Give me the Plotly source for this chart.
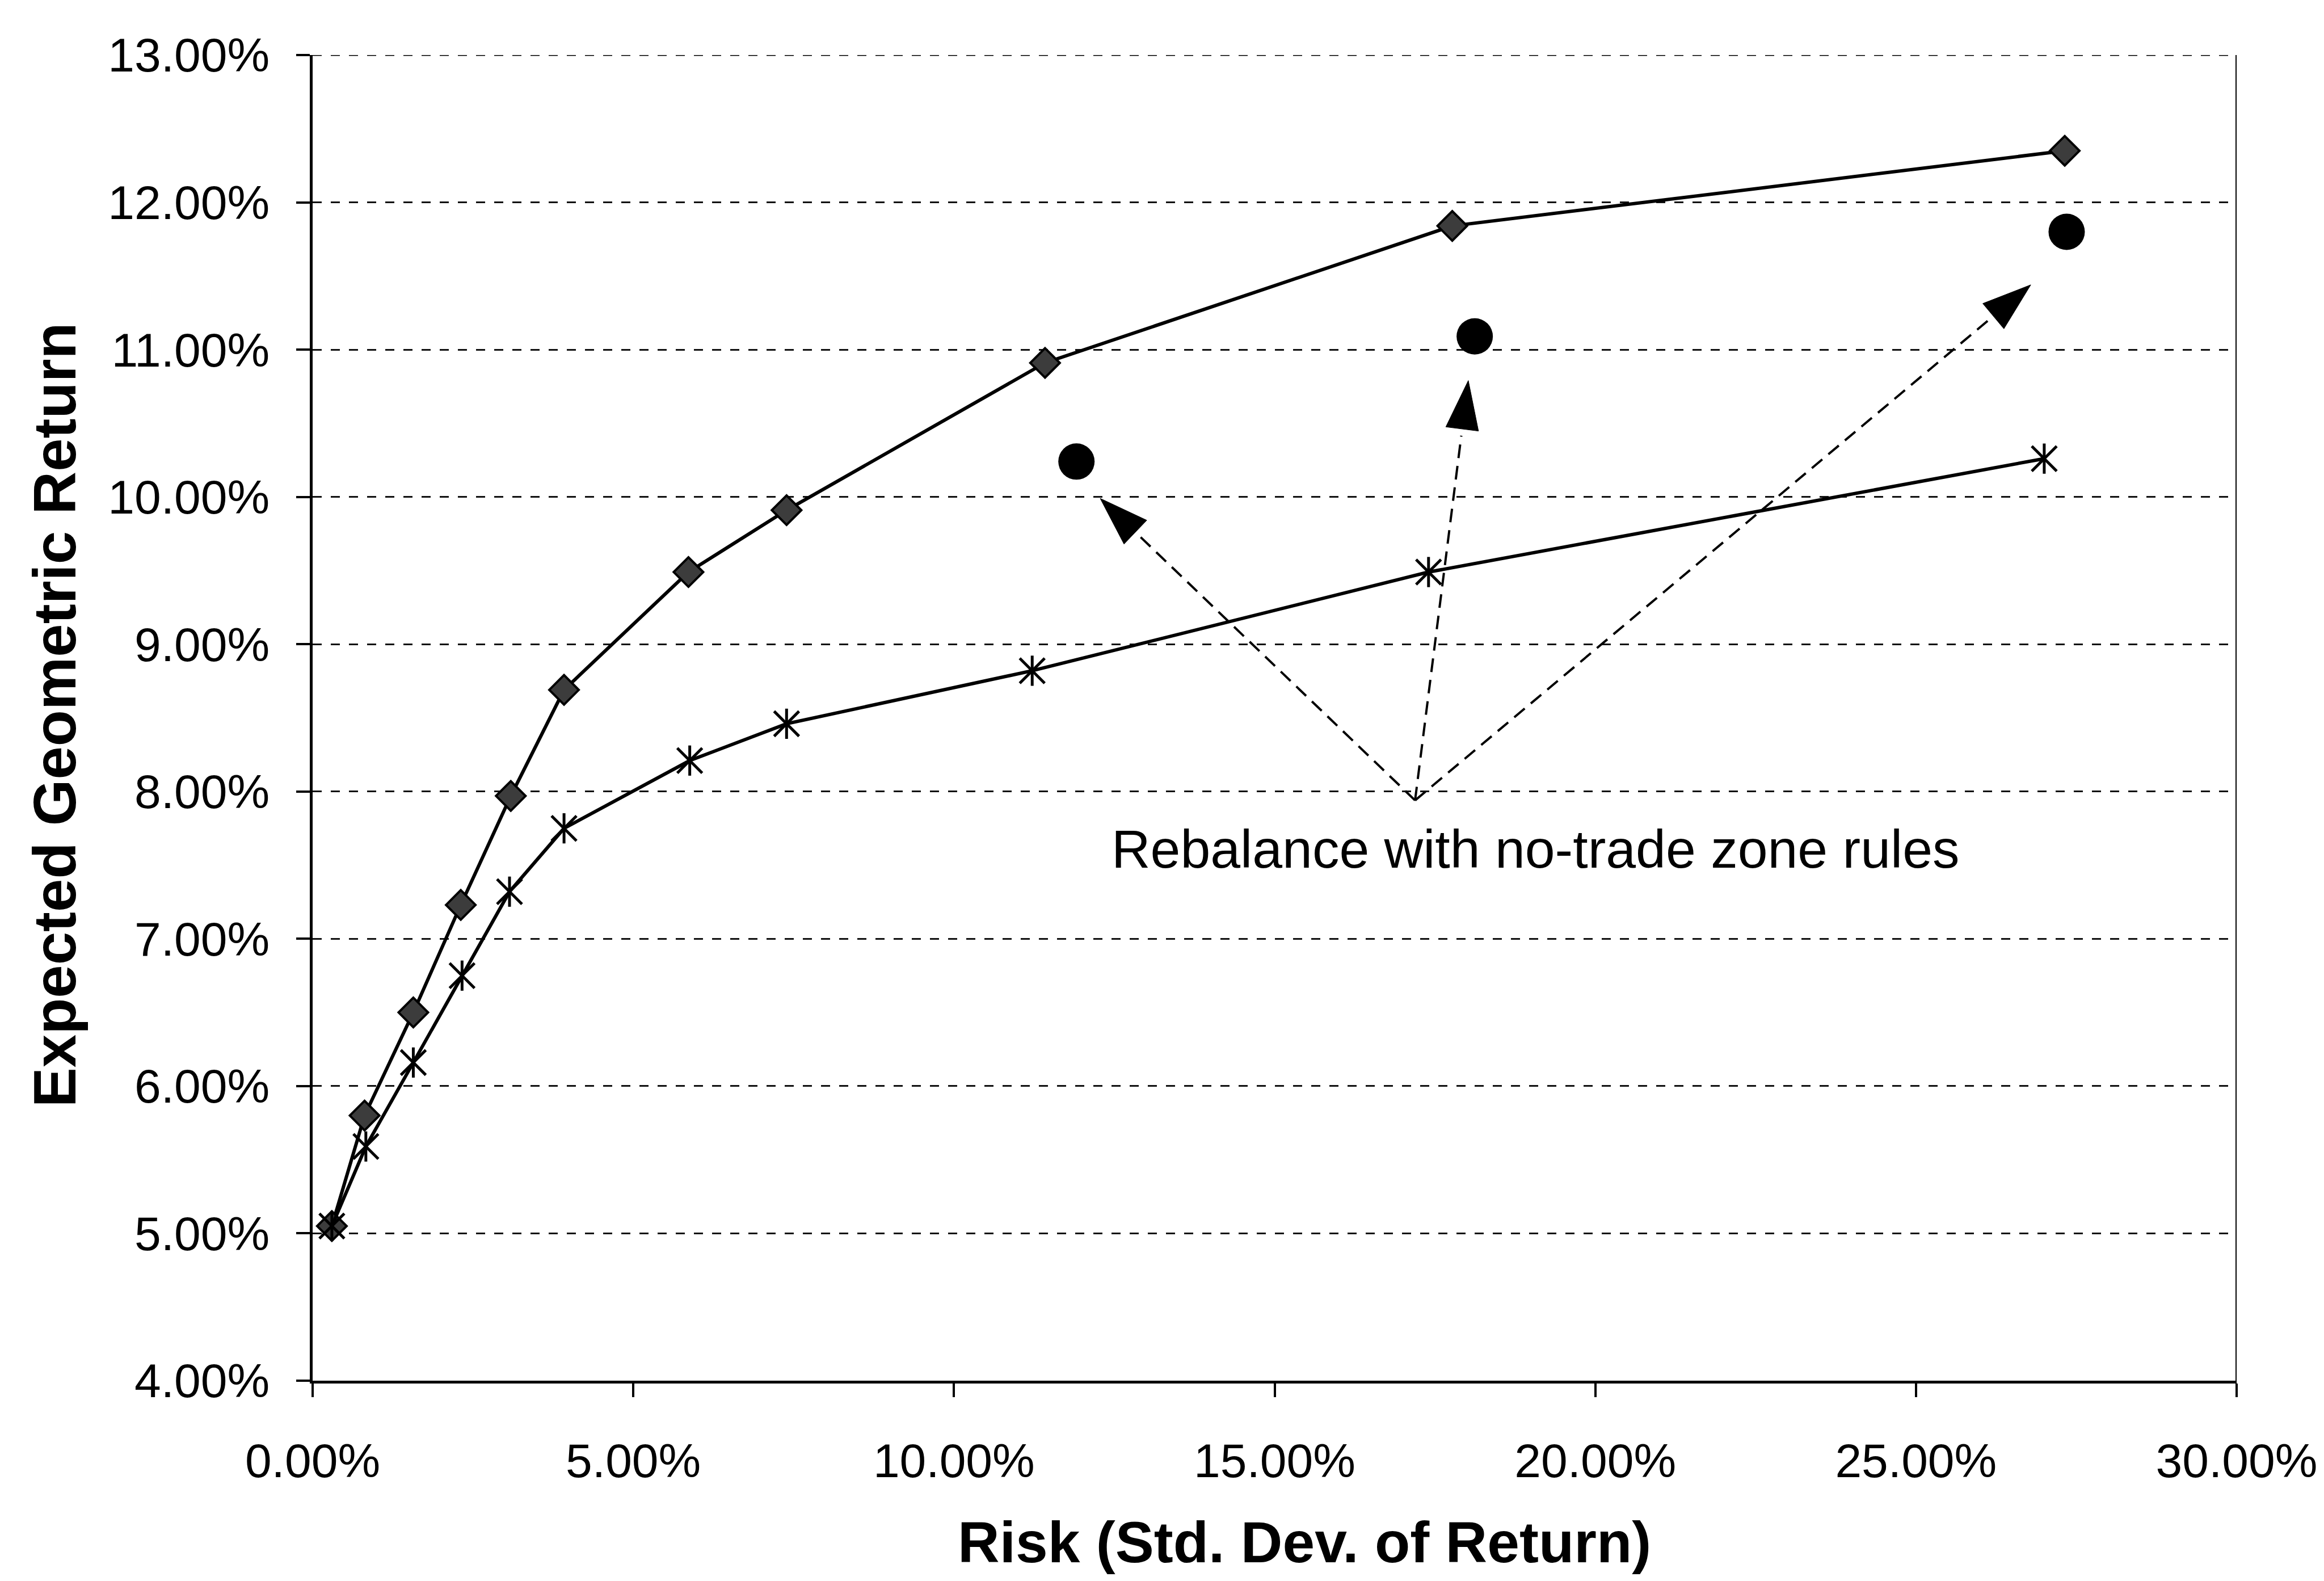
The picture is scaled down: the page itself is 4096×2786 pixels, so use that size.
import math
import plotly.graph_objects as go

# Efficient-frontier points (risk %, expected geometric return %)
risk_upper = [0.30, 0.81, 1.57, 2.31, 3.09, 3.92, 5.86, 7.39, 11.42, 17.77, 27.32]
ret_upper = [5.05, 5.80, 6.50, 7.23, 7.97, 8.69, 9.49, 9.91, 10.91, 11.84, 12.35]

risk_lower = [0.30, 0.83, 1.57, 2.33, 3.07, 3.92, 5.88, 7.39, 11.22, 17.40, 27.00]
ret_lower = [5.05, 5.59, 6.16, 6.75, 7.32, 7.75, 8.21, 8.46, 8.82, 9.49, 10.26]

# Portfolios rebalanced with no-trade zone rules
risk_ntz = [11.91, 18.12, 27.35]
ret_ntz = [10.24, 11.09, 11.80]

# Callout: label anchor, arrow origin and arrow tips (data units)
note_text = "Rebalance with no-trade zone rules"
note_x, note_y = 12.44, 7.61
arrow_origin = (17.19, 7.94)
arrow_tip_x = [12.28, 18.02, 26.79]
arrow_tip_y = [9.99, 10.79, 11.44]

x_ticks = [0, 5, 10, 15, 20, 25, 30]
x_tick_text = ["0.00%", "5.00%", "10.00%", "15.00%", "20.00%", "25.00%", "30.00%"]
y_ticks = [4, 5, 6, 7, 8, 9, 10, 11, 12, 13]
y_tick_text = ["4.00%", "5.00%", "6.00%", "7.00%", "8.00%", "9.00%",
               "10.00%", "11.00%", "12.00%", "13.00%"]

# Canvas geometry
W, H = 4096, 2786
ML, MR, MT, MB = 551, 152, 97, 353
PW, PH = W - ML - MR, H - MT - MB
X_RANGE = [0, 30]
Y_RANGE = [4, 13]
kx = PW / (X_RANGE[1] - X_RANGE[0])
ky = PH / (Y_RANGE[1] - Y_RANGE[0])

FONT = "Liberation Sans, Arial, sans-serif"
GRID_DASH = "16px,16px"

fig = go.Figure()

# Upper frontier with diamonds
fig.add_trace(go.Scatter(
    x=risk_upper, y=ret_upper, mode="lines+markers",
    line=dict(color="black", width=6),
    marker=dict(symbol="diamond", size=40, color="#3c3c3c",
                line=dict(color="black", width=4)),
    showlegend=False, hoverinfo="skip"))

# Lower frontier with star markers (X plus vertical stroke)
fig.add_trace(go.Scatter(
    x=risk_lower, y=ret_lower, mode="lines",
    line=dict(color="black", width=6),
    showlegend=False, hoverinfo="skip"))
fig.add_trace(go.Scatter(
    x=risk_lower, y=ret_lower, mode="markers",
    marker=dict(symbol="x-thin-open", size=44, color="black",
                line=dict(color="black", width=5)),
    showlegend=False, hoverinfo="skip"))
fig.add_trace(go.Scatter(
    x=risk_lower, y=ret_lower, mode="markers",
    marker=dict(symbol="line-ns-open", size=38, color="black",
                line=dict(color="black", width=5)),
    showlegend=False, hoverinfo="skip"))

# No-trade-zone portfolios
fig.add_trace(go.Scatter(
    x=risk_ntz, y=ret_ntz, mode="markers",
    marker=dict(symbol="circle", size=64, color="black"),
    showlegend=False, hoverinfo="skip"))

# Dashed callout arrows with filled heads
HEAD_LEN, HEAD_W, GAP = 86, 58, 12
ox, oy = arrow_origin
for tx, ty in zip(arrow_tip_x, arrow_tip_y):
    dxp, dyp = (tx - ox) * kx, (ty - oy) * ky
    L = math.hypot(dxp, dyp)
    ux, uy = dxp / L, dyp / L
    nx, ny = -uy, ux
    bx, by = (tx - ux * HEAD_LEN / kx), (ty - uy * HEAD_LEN / ky)
    ex, ey = (tx - ux * (HEAD_LEN + GAP) / kx), (ty - uy * (HEAD_LEN + GAP) / ky)
    fig.add_trace(go.Scatter(
        x=[ox, ex], y=[oy, ey], mode="lines",
        line=dict(color="black", width=4, dash="24px,14px"),
        showlegend=False, hoverinfo="skip"))
    hx = [tx, bx + nx * HEAD_W / 2 / kx, bx - nx * HEAD_W / 2 / kx, tx]
    hy = [ty, by + ny * HEAD_W / 2 / ky, by - ny * HEAD_W / 2 / ky, ty]
    fig.add_trace(go.Scatter(
        x=hx, y=hy, mode="lines", fill="toself", fillcolor="black",
        line=dict(color="black", width=1),
        showlegend=False, hoverinfo="skip"))

# Top edge: dashed gridline at the top of the range
fig.add_shape(type="line", xref="paper", yref="y", x0=0, x1=1,
              y0=Y_RANGE[1], y1=Y_RANGE[1],
              line=dict(color="black", width=3, dash=GRID_DASH))
# Right-hand border of the plot area
fig.add_shape(type="line", xref="x", yref="paper", x0=X_RANGE[1], x1=X_RANGE[1],
              y0=0, y1=1, line=dict(color="black", width=4))

fig.add_annotation(x=note_x, y=note_y, xref="x", yref="y", text=note_text,
                   showarrow=False, xanchor="left", yanchor="middle",
                   font=dict(family=FONT, size=95, color="black"))

# Axis titles
fig.add_annotation(x=(2300 - ML) / PW, y=-(2718 - (MT + PH)) / PH,
                   xref="paper", yref="paper",
                   text="<b>Risk (Std. Dev. of Return)</b>", showarrow=False,
                   xanchor="center", yanchor="middle",
                   font=dict(family=FONT, size=102, color="black"))
fig.add_annotation(x=(97 - ML) / PW, y=(MT + PH - 1260) / PH,
                   xref="paper", yref="paper",
                   text="<b>Expected Geometric Return</b>", showarrow=False,
                   textangle=-90, xanchor="center", yanchor="middle",
                   font=dict(family=FONT, size=105, color="black"))

fig.update_xaxes(
    range=X_RANGE, tickmode="array", tickvals=x_ticks, ticktext=x_tick_text,
    showgrid=False, zeroline=False,
    showline=True, linecolor="black", linewidth=5,
    ticks="outside", ticklen=24, tickwidth=4, tickcolor="black",
    ticklabelstandoff=40,
    tickfont=dict(family=FONT, size=84, color="black"))
fig.update_yaxes(
    range=Y_RANGE, tickmode="array", tickvals=y_ticks, ticktext=y_tick_text,
    showgrid=True, gridcolor="#111111", gridwidth=2.5, griddash=GRID_DASH,
    zeroline=False,
    showline=True, linecolor="black", linewidth=5,
    ticks="outside", ticklen=24, tickwidth=4, tickcolor="black",
    ticklabelstandoff=30,
    tickfont=dict(family=FONT, size=84, color="black"))

fig.update_layout(
    width=W, height=H,
    margin=dict(l=ML, r=MR, t=MT, b=MB, pad=0),
    paper_bgcolor="white", plot_bgcolor="white",
    showlegend=False)

fig.write_html("out.html")
